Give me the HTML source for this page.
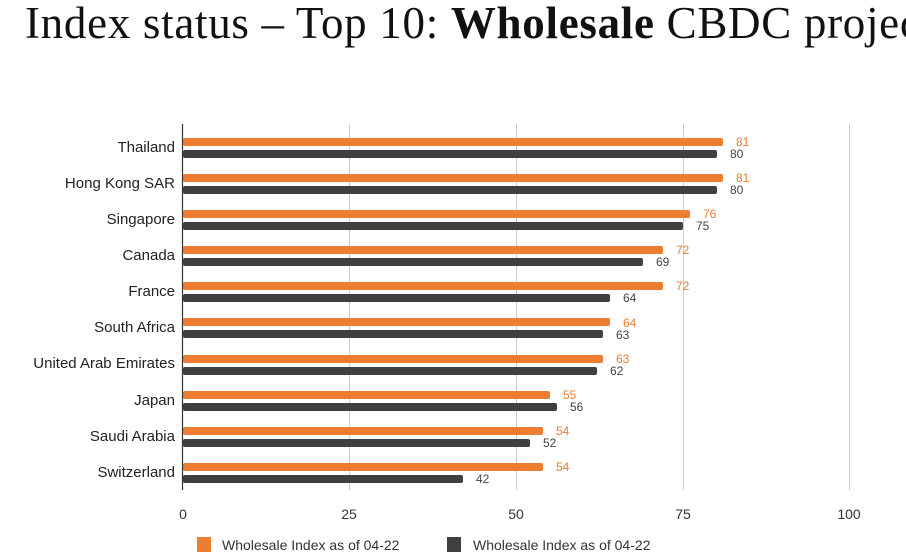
<!DOCTYPE html>
<html><head><meta charset="utf-8"><style>
body{margin:0;width:906px;height:556px;background:#fff;overflow:hidden;position:relative;font-family:"Liberation Sans",sans-serif}
.tw{position:absolute;left:25px;top:-3px;width:881px;height:60px;overflow:hidden}
.t{font-family:"Liberation Serif",serif;font-size:45px;letter-spacing:0.7px;white-space:nowrap;color:#111}
</style></head><body>
<div class="tw"><div class="t">Index status – Top 10: <b>Wholesale</b> CBDC projects</div></div>
<svg width="906" height="556" style="position:absolute;left:0;top:0" font-family="Liberation Sans, sans-serif">
<g stroke="#ccc" stroke-width="1">
<line x1="349.5" y1="124" x2="349.5" y2="490"/><line x1="516.5" y1="124" x2="516.5" y2="490"/><line x1="683.5" y1="124" x2="683.5" y2="490"/><line x1="849.5" y1="124" x2="849.5" y2="490"/>
</g>
<g font-size="15" fill="#222" text-anchor="end">
<text x="175" y="152">Thailand</text>
<text x="175" y="188">Hong Kong SAR</text>
<text x="175" y="224">Singapore</text>
<text x="175" y="260">Canada</text>
<text x="175" y="296">France</text>
<text x="175" y="332">South Africa</text>
<text x="175" y="368">United Arab Emirates</text>
<text x="175" y="405">Japan</text>
<text x="175" y="441">Saudi Arabia</text>
<text x="175" y="477">Switzerland</text>
</g>
<g fill="#ed7d31">
<rect x="183" y="138" width="540" height="8" rx="2"/>
<rect x="183" y="174" width="540" height="8" rx="2"/>
<rect x="183" y="210" width="507" height="8" rx="2"/>
<rect x="183" y="246" width="480" height="8" rx="2"/>
<rect x="183" y="282" width="480" height="8" rx="2"/>
<rect x="183" y="318" width="427" height="8" rx="2"/>
<rect x="183" y="355" width="420" height="8" rx="2"/>
<rect x="183" y="391" width="367" height="8" rx="2"/>
<rect x="183" y="427" width="360" height="8" rx="2"/>
<rect x="183" y="463" width="360" height="8" rx="2"/>
</g>
<g fill="#404040">
<rect x="183" y="150" width="534" height="8" rx="2"/>
<rect x="183" y="186" width="534" height="8" rx="2"/>
<rect x="183" y="222" width="500" height="8" rx="2"/>
<rect x="183" y="258" width="460" height="8" rx="2"/>
<rect x="183" y="294" width="427" height="8" rx="2"/>
<rect x="183" y="330" width="420" height="8" rx="2"/>
<rect x="183" y="367" width="414" height="8" rx="2"/>
<rect x="183" y="403" width="374" height="8" rx="2"/>
<rect x="183" y="439" width="347" height="8" rx="2"/>
<rect x="183" y="475" width="280" height="8" rx="2"/>
</g>
<g font-size="12" fill="#ed7d31">
<text x="736" y="146">81</text>
<text x="736" y="182">81</text>
<text x="703" y="218">76</text>
<text x="676" y="254">72</text>
<text x="676" y="290">72</text>
<text x="623" y="327">64</text>
<text x="616" y="363">63</text>
<text x="563" y="399">55</text>
<text x="556" y="435">54</text>
<text x="556" y="471">54</text>
</g>
<g font-size="12" fill="#444">
<text x="730" y="158">80</text>
<text x="730" y="194">80</text>
<text x="696" y="230">75</text>
<text x="656" y="266">69</text>
<text x="623" y="302">64</text>
<text x="616" y="339">63</text>
<text x="610" y="375">62</text>
<text x="570" y="411">56</text>
<text x="543" y="447">52</text>
<text x="476" y="483">42</text>
</g>
<line x1="182.5" y1="124" x2="182.5" y2="490" stroke="#333" stroke-width="1.2"/>
<g font-size="14" fill="#333" text-anchor="middle">
<text x="183" y="519">0</text><text x="349" y="519">25</text><text x="516" y="519">50</text><text x="683" y="519">75</text><text x="849" y="519">100</text>
</g>
<rect x="197" y="537" width="14" height="15" fill="#ed7d31"/>
<text x="222" y="550" font-size="14" fill="#333">Wholesale Index as of 04-22</text>
<rect x="447" y="537" width="14" height="15" fill="#404040"/>
<text x="473" y="550" font-size="14" fill="#333">Wholesale Index as of 04-22</text>
</svg>
</body></html>
